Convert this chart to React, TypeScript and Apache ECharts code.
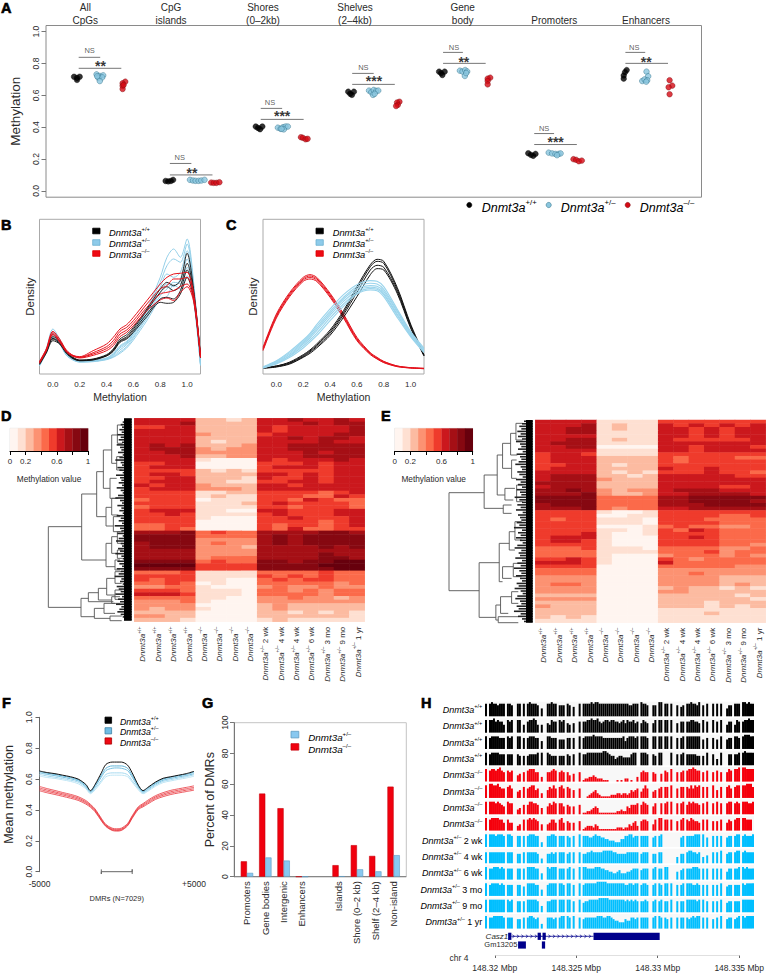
import React, { useEffect, useRef } from "react";
import * as echarts from "echarts";

const FONT = "Liberation Sans";
const TXT = "#2a2a2a";

// ---------- Panel A
const regionTitles: [string, number, number][] = [
  ["All\nCpGs", 85.3, 14],
  ["CpG\nislands", 171, 14],
  ["Shores\n(0–2kb)", 263, 14],
  ["Shelves\n(2–4kb)", 355, 14],
  ["Gene\nbody", 462.7, 14],
  ["Promoters", 554.3, 20],
  ["Enhancers", 646, 20],
];
const wildPoints = [
  [68.3, 0.717], [71.3, 0.697], [74, 0.717], [71.3, 0.71],
  [160.7, 0.062], [163.3, 0.059], [166, 0.062], [168.3, 0.069],
  [251.7, 0.404], [254, 0.395], [256, 0.387], [258.3, 0.404],
  [345, 0.623], [347, 0.61], [348.7, 0.603], [350.7, 0.623],
  [436.7, 0.749], [438.7, 0.74], [440, 0.728], [442.3, 0.749],
  [526.7, 0.236], [529.3, 0.226], [531.7, 0.22], [534, 0.232],
  [626, 0.759], [624.3, 0.745], [623, 0.725], [623, 0.705],
];
const hetPoints = [
  [91, 0.732], [94.3, 0.722], [97.7, 0.726], [92.7, 0.711], [96.7, 0.713], [94.3, 0.69], [91.7, 0.72],
  [185.3, 0.069], [188.3, 0.065], [191, 0.063], [194, 0.063], [196.7, 0.065], [200, 0.069],
  [274, 0.397], [276.7, 0.39], [279.3, 0.4], [281.7, 0.404], [284, 0.404], [280, 0.386], [277.7, 0.39],
  [366, 0.63], [368.3, 0.62], [370.7, 0.634], [373.3, 0.628], [375.3, 0.63], [370, 0.603], [371.7, 0.61],
  [457.7, 0.755], [460.3, 0.75], [463, 0.759], [465, 0.75], [462.7, 0.722], [464, 0.74],
  [547.3, 0.24], [550.7, 0.235], [554, 0.232], [557.3, 0.232], [559.3, 0.235], [555.7, 0.224],
  [646, 0.749], [647.7, 0.72], [641.7, 0.69], [644, 0.7], [646.7, 0.695], [645.7, 0.686],
];
const koPoints = [
  [120, 0.686], [117.3, 0.676], [117.3, 0.66], [117.3, 0.64], [118.3, 0.665],
  [206.7, 0.052], [209.3, 0.05], [212, 0.05], [215, 0.054],
  [297.3, 0.337], [299.3, 0.333], [302, 0.324], [304, 0.327],
  [396.7, 0.56], [394.3, 0.555], [395, 0.54], [393.3, 0.533],
  [488.3, 0.711], [485.7, 0.705], [485.7, 0.69], [485.7, 0.669],
  [572.3, 0.199], [575, 0.195], [577.7, 0.186], [580.7, 0.19],
  [669.3, 0.695], [672, 0.661], [668.3, 0.651], [669.3, 0.607],
];
const brackets = [
  [73, 94.7, 0.839], [73, 116, 0.77],
  [165, 186.7, 0.172], [165, 208, 0.1],
  [256.7, 278.3, 0.518], [256.7, 300, 0.449],
  [349, 370.7, 0.738], [349, 392, 0.669],
  [440.7, 460.7, 0.87], [440.7, 483.7, 0.801],
  [532.7, 552.7, 0.36], [532.7, 575.7, 0.291],
  [624.7, 644.7, 0.87], [624.7, 667.7, 0.801],
];
const nsLabels = [
  [84, 0.879, "NS"], [175, 0.21, "NS"], [266, 0.556, "NS"], [360.3, 0.778, "NS"],
  [451.7, 0.901, "NS"], [542.7, 0.393, "NS"], [633.7, 0.901, "NS"],
];
const starLabels = [
  [95, 0.805, "**"], [187.3, 0.132, "**"], [278.3, 0.486, "***"], [371, 0.707, "***"],
  [461.7, 0.826, "**"], [554.3, 0.325, "***"], [645.7, 0.826, "**"],
];

// ---------- Panel B
const bX = [-0.1, -0.05, 0, 0.05, 0.1, 0.15, 0.2, 0.3, 0.4, 0.45, 0.5, 0.55, 0.6, 0.7, 0.8, 0.85, 0.9, 0.95, 1.0, 1.05, 1.1];
const bBlue = [
  [30, 75, 135, 105, 65, 45, 38, 40, 48, 62, 85, 98, 125, 195, 290, 350, 375, 350, 405, 270, 35],
  [28, 72, 128, 100, 62, 44, 38, 40, 48, 60, 82, 95, 122, 190, 275, 325, 345, 335, 390, 258, 32],
  [27, 70, 122, 96, 60, 44, 37, 39, 46, 58, 78, 92, 118, 182, 260, 300, 290, 305, 370, 245, 30],
  [26, 68, 118, 94, 58, 43, 37, 38, 45, 55, 72, 88, 112, 175, 245, 270, 262, 285, 345, 235, 28],
  [25, 66, 115, 92, 58, 42, 36, 38, 44, 52, 66, 82, 108, 168, 235, 255, 275, 272, 320, 225, 27],
  [24, 64, 110, 90, 56, 42, 36, 37, 43, 50, 62, 78, 102, 160, 225, 232, 268, 255, 295, 215, 25],
];
const bBlack = [
  [35, 70, 112, 100, 68, 50, 42, 45, 58, 75, 105, 118, 140, 195, 255, 275, 265, 280, 362, 250, 55],
  [32, 68, 107, 96, 66, 48, 41, 44, 56, 72, 100, 112, 135, 190, 245, 262, 250, 265, 332, 240, 52],
  [30, 65, 105, 92, 64, 47, 40, 43, 55, 70, 98, 108, 130, 180, 225, 230, 225, 250, 312, 230, 50],
  [28, 62, 100, 90, 62, 46, 40, 42, 54, 68, 95, 105, 125, 172, 215, 212, 215, 240, 290, 222, 48],
];
const bRed = [
  [38, 75, 128, 105, 72, 56, 52, 70, 90, 110, 135, 148, 170, 220, 270, 290, 300, 302, 305, 240, 55],
  [36, 72, 124, 100, 70, 55, 50, 64, 82, 100, 128, 140, 160, 210, 255, 265, 285, 285, 290, 230, 52],
  [34, 70, 120, 98, 68, 54, 50, 60, 76, 92, 120, 132, 152, 200, 240, 245, 250, 262, 270, 222, 50],
  [32, 68, 118, 96, 66, 53, 48, 56, 70, 85, 112, 125, 145, 190, 222, 228, 220, 245, 262, 215, 48],
];

// ---------- Panel C
const cX = [-0.1, 0, 0.1, 0.2, 0.25, 0.3, 0.4, 0.5, 0.6, 0.7, 0.75, 0.8, 0.9, 1.0, 1.1];
const cRed = [
  [80, 180, 245, 290, 298, 290, 242, 180, 110, 64, 50, 38, 24, 19, 17],
  [76, 176, 241, 286, 294, 286, 238, 176, 106, 62, 48, 37, 24, 19, 17],
  [73, 172, 237, 282, 290, 282, 234, 172, 103, 60, 46, 35, 23, 18, 16],
  [70, 168, 233, 278, 285, 278, 230, 168, 100, 58, 45, 34, 22, 18, 16],
];
const cBlack = [
  [19, 24, 36, 58, 72, 90, 132, 190, 262, 328, 344, 338, 260, 150, 58],
  [19, 24, 34, 55, 69, 86, 127, 184, 255, 322, 338, 332, 254, 146, 56],
  [18, 22, 32, 52, 66, 82, 122, 178, 245, 312, 326, 320, 248, 142, 55],
  [17, 21, 30, 50, 62, 78, 116, 170, 232, 298, 316, 312, 242, 138, 54],
];
const cBlue = [
  [22, 40, 68, 102, 122, 148, 195, 238, 268, 280, 278, 262, 195, 128, 78],
  [20, 38, 64, 98, 118, 142, 188, 230, 262, 272, 270, 254, 190, 125, 75],
  [20, 36, 60, 94, 113, 136, 182, 225, 256, 265, 263, 248, 186, 122, 72],
  [19, 34, 56, 90, 108, 130, 176, 218, 250, 260, 258, 242, 180, 118, 68],
  [18, 32, 54, 84, 102, 122, 168, 210, 244, 256, 254, 238, 176, 115, 66],
  [18, 30, 50, 78, 96, 115, 160, 203, 240, 252, 250, 232, 170, 112, 64],
];

// ---------- Panels D, E: one digit per cell (methylation bin 0..9)
const reds = ["#FFF5F0", "#FEE0D2", "#FCBBA1", "#FC9272", "#FB6A4A", "#EF3B2C", "#CB181D", "#A50F15", "#860811", "#67000D"];
const columnLabels = ["+/+", "+/+", "+/+", "+/+", "–/–", "–/–", "–/–", "–/–", "+/– 2 wk", "+/– 4 wk", "+/– 4 wk", "+/– 6 wk", "+/– 3 mo", "+/– 9 mo", "+/– 1 yr"];
const heatD = [
  "6666 2212 6676676", "6667 2222 6667677", "5566 2222 6566667", "6666 2222 6566667", "6666 3222 5666677",
  "6666 2222 6676776", "6666 2122 6666766", "6767 2223 6677777", "6777 3233 6677777", "6677 3333 6667677",
  "6667 2233 6667777", "6666 1000 6566676", "5566 0000 5556566", "5666 0000 5666566", "5555 2121 5555566",
  "5665 2222 6656566", "5566 2221 6556566", "5666 2211 5566566", "6566 3222 6656666", "5666 3332 6666666",
  "5555 1122 5555456", "5555 1211 5554465", "4555 0111 5546544", "5555 1112 5655554", "4555 1111 5545554",
  "5666 1100 6655566", "5565 1111 5655566", "5555 1000 5565556", "5555 0000 5555456", "4455 0000 5455456",
  "4454 0000 5464455", "7778 4544 7777887", "8888 4444 7878888", "8888 3333 7878888", "7888 3433 7878888",
  "7888 3332 7777878", "7777 3333 7777777", "7777 3333 7777877", "7777 3444 7777887", "8888 4544 8878899",
  "9999 5555 8888999", "8888 5555 8888899", "4445 1111 4444544", "5555 1111 5454544", "5455 1100 4545544",
  "4454 0100 4444434", "3344 1000 3433433", "5554 1110 4434344", "6665 1110 4444344", "4444 1100 3343323",
  "3334 1000 3333333", "3333 0000 2322222", "3233 1000 2322222", "2222 0000 2212121", "3322 0000 2222221",
  "2221 0000 1211111",
];
const heatE = [
  "6666 1111 5555555", "6667 1211 6565656", "6677 1211 6656566", "6677 1111 6656566", "6666 1111 6656566",
  "6677 1211 6555556", "6777 1111 6666666", "6677 0000 6656665", "6666 1111 6656666", "5665 1111 5555555",
  "5666 2222 5455544", "5666 2222 5455555", "5566 2122 5555555", "5666 2222 6556555", "6666 2121 5556554",
  "6777 2212 6666655", "6777 3222 6666666", "7777 2222 6666666", "6777 2222 6666556", "7787 3233 6777666",
  "7778 3223 6677776", "8888 4444 7788888", "8888 4444 7788887", "7888 4444 7778888", "7778 4344 6677777",
  "5555 1001 5555555", "5555 0011 5555445", "5455 1110 5554444", "5555 1110 5555444", "5555 0001 4544334",
  "5555 1101 5465444", "5556 1001 5555444", "5666 1000 5565444", "5665 1000 5555444", "5555 1000 5555443",
  "4445 1110 4444334", "4444 1111 4445344", "4444 1000 3444343", "5565 1000 5434444", "6665 1000 6444444",
  "5555 0000 4444433", "4444 0000 3333333", "4444 0000 3343333", "3333 0000 3333222", "3333 0000 3333222",
  "3443 0000 3333232", "3333 0000 2322121", "3333 0000 3322222", "2222 0000 2222212", "3333 0000 2222221",
  "2222 0000 2221222", "3222 0000 2221212", "2222 0000 1111111", "2222 0000 1112111", "2121 0000 1111111",
  "1111 0000 1111111",
];
// merges: [height, topLeaf, bottomLeaf, topChildHeight, bottomChildHeight]
const treeD = [
  [145, 380, 622, 245, 243], [245, 282, 480, 290, 318], [290, 215, 350, 310, 318], [310, 150, 265, 335, 330],
  [335, 105, 190, 352, 350], [330, 235, 295, 350, 348], [352, 75, 130, 368, 368], [350, 170, 210, 368, 365],
  [318, 322, 378, 335, 340], [335, 295, 345, 355, 355], [340, 350, 395, 360, 360], [318, 430, 500, 335, 345],
  [335, 410, 460, 352, 352], [345, 480, 510, 360, 360], [352, 395, 430, 368, 368], [352, 450, 475, 368, 368],
  [243, 595, 650, 265, 283], [265, 578, 605, 295, 340], [295, 565, 600, 320, 335], [320, 535, 585, 345, 345],
  [335, 590, 610, 360, 360], [283, 625, 655, 312, 330], [312, 610, 640, 345, 345], [330, 648, 662, 365, 365],
  [345, 515, 550, 365, 365], [345, 570, 598, 365, 365],
];
const treeE = [
  [208, 278, 572, 313, 298], [313, 225, 325, 352, 370], [352, 165, 285, 368, 375], [368, 130, 205, 392, 395],
  [392, 100, 165, 408, 412], [395, 180, 235, 410, 410], [375, 265, 300, 405, 400], [370, 315, 340, 395, 395],
  [298, 488, 652, 358, 348], [358, 430, 545, 388, 368], [388, 395, 450, 405, 405], [368, 500, 535, 400, 395],
  [348, 615, 660, 362, 355], [362, 590, 640, 395, 385], [355, 650, 668, 415, 415], [405, 365, 420, 425, 425],
  [400, 490, 530, 425, 425], [395, 575, 610, 415, 415], [408, 70, 120, 428, 428], [410, 255, 305, 428, 428],
];
const fringeD = [
  372, 368, 362, 366, 358, 365, 352, 362, 356, 366, 350, 360, 364, 354, 368, 358, 346, 362, 366, 352,
  358, 368, 348, 360, 364, 356, 366, 350, 362, 368, 354, 346, 360, 366, 352, 364, 358, 368, 350, 362,
  356, 366, 344, 360, 364, 352, 368, 356, 348, 362, 366, 354, 360, 346, 364, 368, 352, 358, 366, 350,
  362, 356, 344, 364, 360, 368, 350, 356, 362, 346, 366, 354, 360, 348, 364, 358, 352, 362, 368, 372,
];
const fringeE = [
  432, 426, 418, 424, 412, 422, 414, 426, 408, 420, 424, 414, 428, 410, 420, 424, 416, 406, 422, 426,
  412, 418, 428, 408, 422, 414, 426, 410, 420, 424, 404, 418, 426, 412, 422, 408, 428, 414, 420, 424,
  410, 418, 402, 426, 414, 422, 408, 420, 428, 412, 404, 424, 416, 420, 406, 426, 412, 422, 402, 418,
  424, 408, 420, 426, 410, 416, 404, 422, 428, 412, 406, 420, 424, 410, 416, 402, 422, 414, 426, 432,
];

// ---------- Panel F
const fX = [-5000, -4500, -4000, -3500, -3000, -2500, -2000, -1700, -1400, -1000, -700, -300, 0, 300, 700, 1000, 1400, 1700, 2000, 2500, 3000, 3500, 4000, 4500, 5000];
const fWild = [0.652, 0.642, 0.635, 0.625, 0.615, 0.6, 0.565, 0.525, 0.565, 0.64, 0.695, 0.71, 0.71, 0.71, 0.69, 0.64, 0.56, 0.525, 0.545, 0.58, 0.605, 0.615, 0.625, 0.635, 0.65];
const fHet = [
  [0.648, 0.638, 0.63, 0.62, 0.61, 0.595, 0.56, 0.52, 0.56, 0.625, 0.67, 0.685, 0.685, 0.685, 0.67, 0.625, 0.555, 0.52, 0.54, 0.575, 0.6, 0.612, 0.622, 0.63, 0.645],
  [0.64, 0.63, 0.622, 0.612, 0.602, 0.588, 0.552, 0.515, 0.55, 0.612, 0.655, 0.67, 0.672, 0.67, 0.655, 0.612, 0.548, 0.515, 0.532, 0.568, 0.592, 0.604, 0.614, 0.622, 0.635],
  [0.63, 0.62, 0.612, 0.603, 0.593, 0.58, 0.545, 0.51, 0.54, 0.59, 0.63, 0.64, 0.64, 0.64, 0.628, 0.59, 0.54, 0.508, 0.525, 0.56, 0.585, 0.596, 0.606, 0.615, 0.628],
  [0.62, 0.61, 0.604, 0.595, 0.585, 0.57, 0.537, 0.505, 0.53, 0.58, 0.615, 0.625, 0.625, 0.625, 0.615, 0.58, 0.53, 0.505, 0.52, 0.553, 0.577, 0.588, 0.598, 0.607, 0.618],
];
const fKo = [
  [0.552, 0.538, 0.526, 0.513, 0.501, 0.486, 0.461, 0.436, 0.406, 0.346, 0.306, 0.282, 0.278, 0.282, 0.312, 0.362, 0.421, 0.441, 0.462, 0.492, 0.512, 0.527, 0.537, 0.546, 0.556],
  [0.542, 0.529, 0.517, 0.505, 0.493, 0.478, 0.453, 0.43, 0.4, 0.34, 0.3, 0.276, 0.272, 0.276, 0.306, 0.356, 0.415, 0.434, 0.454, 0.484, 0.503, 0.518, 0.528, 0.537, 0.546],
  [0.533, 0.52, 0.509, 0.497, 0.485, 0.47, 0.446, 0.424, 0.394, 0.335, 0.296, 0.271, 0.267, 0.271, 0.301, 0.351, 0.409, 0.427, 0.446, 0.476, 0.495, 0.509, 0.519, 0.528, 0.537],
  [0.524, 0.511, 0.5, 0.488, 0.476, 0.462, 0.438, 0.417, 0.388, 0.33, 0.292, 0.267, 0.263, 0.267, 0.297, 0.346, 0.403, 0.42, 0.438, 0.468, 0.486, 0.5, 0.51, 0.519, 0.528],
];
const dmrSpan = [-1000, 1000];

// ---------- Panel G
const gCategories = ["Promoters", "Gene bodies", "Intergenic", "Enhancers", "", "Islands", "Shore (0–2 kb)", "Shelf (2–4 kb)", "Non-island"];
const gKo = [10, 54, 44.5, 0, null, 7.5, 20.5, 13.5, 58.5];
const gHet = [2.5, 12.5, 10.5, 0, null, 0.3, 4.8, 3.5, 14];

// ---------- Panel H: one digit per 2-px genome bin (height 0..9)
const trackLabels = ["+/+", "+/+", "+/+", "+/+", "–/–", "–/–", "–/–", "–/–", "+/– 2 wk", "+/– 4 wk", "+/– 6 wk", "+/– 3 mo", "+/– 9 mo", "+/– 1 yr"];
const trackColors = ["#000000", "#000000", "#000000", "#000000", "#f5000c", "#f5000c", "#f5000c", "#f5000c", "#00bfff", "#00bfff", "#00bfff", "#00bfff", "#00bfff", "#00bfff"];
const trackProfiles = [
  "8 0 89887888 0 887 00 88 0 8 0 898887 0 5 00 88988 0 777 0 87 0 6 00 8 0 8888 9 89988888888888 88887788 8 0 9887 00 77 0 99 0 88 0 8 00 7 0 67 0 8898879 0 7 0 8 00 8 0 8 0 8 00 577 0 888 0 99898 8",
  "8 0 88978775 0 878 00 88 0 5 0 788985 0 5 00 65877 0 878 0 65 0 6 00 7 0 7788 9 88976788788776 78687786 7 0 6876 00 68 0 88 0 88 0 8 00 6 0 77 0 7788776 0 8 0 7 00 8 0 7 0 8 00 577 0 587 0 78898 8",
  "8 0 78888777 0 878 00 88 0 7 0 788877 0 5 00 88777 0 666 0 77 0 7 00 8 0 7888 8 98888777777777 78578887 8 0 8887 00 88 0 88 0 88 0 8 00 7 0 78 0 8888888 0 6 0 7 00 7 0 6 0 8 00 677 0 887 0 89998 8",
  "8 0 78888777 0 777 00 76 0 6 0 677778 0 8 00 87666 0 666 0 76 0 7 00 8 0 7788 8 88888998766456 65555788 0 0 8887 00 76 0 88 0 00 0 8 00 7 0 78 0 7777766 0 6 0 8 00 7 0 4 0 8 00 077 0 778 0 89888 8",
  "8 0 78878976 0 767 00 45 0 6 0 788866 0 3 00 66787 0 676 0 64 0 5 00 6 0 1223 3 43222111000010 10220100 3 0 6766 00 65 0 05 0 76 0 8 00 6 0 67 0 7889877 0 6 0 7 00 6 0 7 0 6 00 687 0 889 0 99888 8",
  "8 0 99889766 0 786 00 45 0 7 0 678856 0 3 00 57686 0 786 0 76 0 5 00 6 0 0012 3 45321111122233 23323545 6 0 4686 00 45 0 67 0 77 0 8 00 6 0 77 0 7686878 0 7 0 7 00 8 0 5 0 7 00 786 0 788 0 88999 7",
  "8 0 88878765 0 877 00 34 0 6 0 688776 0 4 00 57687 0 775 0 65 0 5 00 6 0 1122 3 45411111111122 32254666 7 0 6876 00 57 0 07 0 78 0 8 00 7 0 78 0 6878776 0 7 0 8 00 7 0 8 0 7 00 788 0 787 0 88877 8",
  "8 0 78888775 0 755 00 34 0 7 0 787876 0 4 00 45775 0 785 0 65 0 5 00 6 0 1233 3 24311111111122 21224356 3 0 6776 00 47 0 88 0 77 0 7 00 6 0 78 0 7687665 0 7 0 7 00 6 0 6 0 7 00 576 0 788 0 88777 0",
  "8 0 88878887 0 887 00 77 0 7 0 788877 0 3 00 77887 0 777 0 76 0 7 00 8 0 7776 6 78776655444333 55778867 7 0 7777 00 67 0 78 0 00 0 0 00 0 0 67 0 7777888 0 8 0 6 00 7 0 7 0 7 00 677 0 788 0 78777 8",
  "7 0 77777777 0 777 00 66 0 7 0 777776 0 3 00 66767 0 777 0 67 0 7 00 7 0 6677 8 77777888887766 66677777 7 0 6777 00 66 0 77 0 00 0 0 00 4 0 66 0 7887767 0 4 0 5 00 7 0 7 0 8 00 677 0 788 0 78777 7",
  "8 0 77888787 0 777 00 77 0 7 0 888877 0 4 00 87888 0 777 0 78 0 7 00 8 0 8877 7 78887766554456 44455677 7 0 6777 00 78 0 77 0 88 0 0 00 5 0 67 0 7778887 0 7 0 7 00 7 0 7 0 7 00 577 0 778 0 87877 7",
  "8 0 78888787 0 777 00 77 0 6 0 888877 0 4 00 78888 0 887 0 88 0 7 00 8 0 7888 8 88999998888888 88778878 8 0 7887 00 78 0 87 0 88 0 8 00 7 0 78 0 8887787 0 7 0 7 00 7 0 7 0 8 00 677 0 777 0 87888 8",
  "8 0 88888888 0 878 00 77 0 7 0 888887 0 4 00 77888 0 888 0 88 0 7 00 8 0 6778 8 88899999888888 88787878 7 0 7787 00 78 0 78 0 77 0 8 00 7 0 77 0 8888878 0 8 0 7 00 7 0 7 0 8 00 677 0 777 0 88888 8",
  "8 0 77888887 0 777 00 66 0 7 0 788767 0 3 00 77767 0 788 0 87 0 8 00 7 0 6777 7 77888778876554 44655776 7 0 7777 00 78 0 87 0 76 0 7 00 7 0 77 0 7678788 0 7 0 7 00 6 0 7 0 8 00 677 0 678 0 87888 8",
];
const geneExons = [
  [148.32082, 148.32102, 6.3], [148.32263, 148.32283, 6.3], [148.32293, 148.32313, 6.3], [148.32606, 148.33012, 6.3],
  [148.32143, 148.32191, 15], [148.32289, 148.32309, 15],
];
const intron = [148.32102, 148.32606, 6.3];
const mbpTicks = [148.32, 148.325, 148.33, 148.335];

// ---------- helpers
function richStyles(size: number, color = TXT) {
  return {
    i: { fontFamily: FONT, fontStyle: "italic", fontWeight: "normal", fontSize: size, color, lineHeight: size * 1.25, verticalAlign: "bottom" },
    s: { fontFamily: FONT, fontWeight: "normal", fontSize: size * 0.62, color, lineHeight: size * 1.25, verticalAlign: "top" },
    n: { fontFamily: FONT, fontWeight: "normal", fontSize: size, color, lineHeight: size * 1.25, verticalAlign: "bottom" },
  };
}
function genoText(label: string) {
  const [sup, ...rest] = label.split(" ");
  const tail = rest.join(" ");
  return `{i|Dnmt3a}{s|${sup}}` + (tail ? `{n| ${tail}}` : "");
}
function genoGraphic(x: number, y: number, label: string, size: number, align = "left") {
  return {
    type: "text", x, y, silent: true,
    style: { text: genoText(label), rich: richStyles(size), align, verticalAlign: "middle", fontFamily: FONT },
  };
}
function plain(x: number, y: number, text: string, size: number, extra: any = {}) {
  return {
    type: "text", x, y, silent: true,
    style: { text, fontFamily: FONT, fontSize: size, fill: TXT, align: "center", verticalAlign: "middle", ...extra },
  };
}
function panelLetter(x: number, y: number, t: string) {
  return {
    type: "text", x, y, silent: true,
    style: { text: t, fontFamily: FONT, fontWeight: "bold", fontSize: 14.5, fill: "#000", stroke: "#000", lineWidth: 0.6, align: "left", verticalAlign: "top" },
  };
}
function swatch(x: number, y: number, w: number, h: number, fill: string, stroke = fill) {
  return { type: "rect", silent: true, shape: { x, y, width: w, height: h }, style: { fill, stroke, lineWidth: 0.8 } };
}

export default function App() {
  const ref = useRef<HTMLDivElement>(null);
  useEffect(() => {
    if (!ref.current) return;
    const chart = echarts.init(ref.current, null, { renderer: "svg" });
    const grids: any[] = [], xAxes: any[] = [], yAxes: any[] = [], series: any[] = [];
    const addGrid = (rect: any, x: any, y: any) => {
      const i = grids.length;
      grids.push({ containLabel: false, ...rect });
      xAxes.push({ gridIndex: i, ...x });
      yAxes.push({ gridIndex: i, ...y });
      return i;
    };
    const line = (gi: number, data: any[], color: string, width: number, extra: any = {}) =>
      series.push({
        type: "line", xAxisIndex: gi, yAxisIndex: gi, data, showSymbol: false, symbol: "none", silent: true,
        lineStyle: { color, width }, itemStyle: { color }, ...extra,
      });
    const hiddenAxis = (min: number, max: number, extra: any = {}) => ({ type: "value", show: false, min, max, ...extra });
    const zip = (xs: number[], ys: number[]) => xs.map((x, i) => [x, ys[i]]);

    // ---- A
    const aTicks = [0, 0.2, 0.4, 0.6, 0.8, 1];
    const gA = addGrid(
      { left: 40, top: 25.5, width: 661.5, height: 171.7, show: true, borderColor: "#8a8a8a", borderWidth: 1 },
      hiddenAxis(40, 701.5),
      {
        type: "value", min: -0.04, max: 1.039,
        name: "Methylation", nameLocation: "middle", nameGap: 24, nameTextStyle: { fontFamily: FONT, fontSize: 13.5, color: TXT },
        axisLine: { show: false, onZero: false }, splitLine: { show: false },
        axisTick: { show: true, length: 4.5, lineStyle: { color: "#777" }, customValues: aTicks },
        axisLabel: { rotate: 90, margin: 6, fontFamily: FONT, fontSize: 8.5, color: TXT, customValues: aTicks, formatter: (v: number) => v.toFixed(1) },
      }
    );
    brackets.forEach(([a, b, v]) => line(gA, [[a, v], [b, v]], "#666", 0.9));
    const scatter = (data: number[][], color: string, border: string) =>
      series.push({
        type: "scatter", xAxisIndex: gA, yAxisIndex: gA, data, symbolSize: 5.6, silent: true,
        itemStyle: { color, borderColor: border, borderWidth: 0.5 },
      });
    scatter(wildPoints, "#000", "#000");
    scatter(hetPoints, "#8ac6de", "#23667f");
    scatter(koPoints, "#d40a14", "#7a0a0f");
    const notes = (data: any[], size: number, weight: string, offsetY: number, color: string) =>
      series.push({
        type: "scatter", xAxisIndex: gA, yAxisIndex: gA, data, symbolSize: 0, silent: true,
        label: { show: true, position: "inside", formatter: (p: any) => p.data[2], fontFamily: FONT, fontSize: size, fontWeight: weight, color, offset: [0, offsetY] },
      });
    notes(nsLabels, 7.5, "normal", 0, "#333");
    notes(starLabels, 14, "bold", 3, "#000");

    // ---- B / C
    const densityGrid = (left: number) => {
      const t = [0, 0.2, 0.4, 0.6, 0.8, 1];
      return addGrid(
        { left, top: 219.3, width: 161, height: 154.7, show: true, borderColor: "#aaa", borderWidth: 1 },
        {
          type: "value", min: -0.1, max: 1.1,
          name: "Methylation", nameLocation: "middle", nameGap: 17, nameTextStyle: { fontFamily: FONT, fontSize: 10.5, color: TXT },
          axisLine: { show: false, onZero: false }, axisTick: { show: false }, splitLine: { show: false },
          axisLabel: { margin: 6, fontFamily: FONT, fontSize: 8, color: TXT, customValues: t, formatter: (v: number) => v.toFixed(1) },
        },
        {
          type: "value", min: 0, max: 464,
          name: "Density", nameLocation: "middle", nameGap: 4, nameTextStyle: { fontFamily: FONT, fontSize: 11.5, color: TXT },
          axisLine: { show: false, onZero: false }, axisTick: { show: false }, axisLabel: { show: false }, splitLine: { show: false },
        }
      );
    };
    const gB = densityGrid(39.5);
    bBlue.forEach((c) => line(gB, zip(bX, c), "#93cfe8", 1, { smooth: 0.3 }));
    bBlack.forEach((c) => line(gB, zip(bX, c), "#111", 0.9, { smooth: 0.3 }));
    bRed.forEach((c) => line(gB, zip(bX, c), "#e5121c", 1, { smooth: 0.3 }));
    const gC = densityGrid(263);
    cRed.forEach((c) => line(gC, zip(cX, c), "#e5121c", 1, { smooth: 0.3 }));
    cBlack.forEach((c) => line(gC, zip(cX, c), "#111", 1, { smooth: 0.3 }));
    cBlue.forEach((c) => line(gC, zip(cX, c), "#9ad4ec", 1.1, { smooth: 0.3 }));

    // ---- D / E
    const parseHeat = (rows: string[]) =>
      rows.flatMap((r, y) => r.replace(/ /g, "").split("").map((d, x) => [x, y, Number(d)]));
    const heatmapGrid = (left: number, top: number, width: number, height: number, rows: string[]) => {
      const gi = addGrid(
        { left, top, width, height },
        {
          type: "category", data: columnLabels, axisLine: { show: false }, axisTick: { show: false }, splitLine: { show: false },
          axisLabel: { rotate: 90, interval: 0, margin: 5, formatter: (v: string) => genoText(v), rich: richStyles(8) },
        },
        { type: "category", inverse: true, show: false, data: rows.map((_, i) => i), splitLine: { show: false } }
      );
      const si = series.length;
      series.push({ type: "heatmap", xAxisIndex: gi, yAxisIndex: gi, data: parseHeat(rows), silent: true, itemStyle: { borderWidth: 0 } });
      return si;
    };
    const hD = heatmapGrid(134.3, 418.3, 230.4, 203.4, heatD);
    const hE = heatmapGrid(535.3, 420, 230.4, 202.7, heatE);

    const colorBar = (left: number) => {
      const gi = addGrid(
        { left, top: 428.3, width: 78, height: 22.7, show: true, borderColor: "#ccc", borderWidth: 0.5 },
        {
          type: "value", min: 0, max: 1, interval: 0.2, position: "bottom",
          name: "Methylation value", nameLocation: "middle", nameGap: 24, nameTextStyle: { fontFamily: FONT, fontSize: 8.3, color: TXT },
          axisLine: { show: true, onZero: false, lineStyle: { color: "#000", width: 1 } },
          axisTick: { show: true, length: 4, lineStyle: { color: "#000" } }, splitLine: { show: false },
          axisLabel: {
            margin: 6.5, fontFamily: FONT, fontSize: 8, color: TXT,
            formatter: (v: number) => (Math.abs(v - 0.4) < 1e-6 || Math.abs(v - 0.8) < 1e-6 ? "" : String(v)),
          },
        },
        hiddenAxis(0, 1)
      );
      series.push({
        type: "custom", xAxisIndex: gi, yAxisIndex: gi, silent: true,
        data: reds.map((_, i) => [i / 10, (i + 1) / 10]),
        renderItem: (p: any, api: any) => {
          const a = api.coord([api.value(0), 1]);
          const b = api.coord([api.value(1), 0]);
          return { type: "rect", shape: { x: a[0], y: a[1], width: b[0] - a[0] + 0.3, height: b[1] - a[1] }, style: { fill: reds[p.dataIndex] } };
        },
      });
    };
    colorBar(10);
    colorBar(394.7);

    const dendro = (left: number, right: number, top: number, bottom: number, x0: number, x1: number, y0: number, y1: number, tree: number[][], fringe: number[], blockStart: number) => {
      const gi = addGrid(
        { left, top, width: right - left, height: bottom - top },
        hiddenAxis(x0, x1),
        hiddenAxis(y0, y1, { inverse: true })
      );
      series.push({
        type: "custom", xAxisIndex: gi, yAxisIndex: gi, silent: true, data: tree,
        renderItem: (_: any, api: any) => {
          const [h, t, b, c1, c2] = [0, 1, 2, 3, 4].map((i) => api.value(i));
          return {
            type: "polyline",
            shape: { points: [api.coord([c1, t]), api.coord([h, t]), api.coord([h, b]), api.coord([c2, b])] },
            style: { stroke: "#555", fill: "none", lineWidth: 0.9 },
          };
        },
      });
      series.push({
        type: "custom", xAxisIndex: gi, yAxisIndex: gi, silent: true,
        data: fringe.map((d, i) => [d, y0 + ((i + 0.5) / fringe.length) * (y1 - y0)]),
        renderItem: (_: any, api: any) => {
          const a = api.coord([api.value(0), api.value(1)]);
          const b = api.coord([x1, api.value(1)]);
          return { type: "line", shape: { x1: a[0], y1: a[1], x2: b[0], y2: b[1] }, style: { stroke: "#222", lineWidth: 1.6 } };
        },
      });
      series.push({
        type: "custom", xAxisIndex: gi, yAxisIndex: gi, silent: true, data: [[blockStart, y0, x1, y1]],
        renderItem: (_: any, api: any) => {
          const a = api.coord([api.value(0), api.value(1)]);
          const b = api.coord([api.value(2), api.value(3)]);
          return { type: "rect", shape: { x: a[0], y: a[1], width: b[0] - a[0], height: b[1] - a[1] }, style: { fill: "#000" } };
        },
      });
    };
    dendro(45, 131.7, 418.3, 620.7, 135, 395, 55, 662, treeD, fringeD, 372);
    dendro(449, 532.7, 420, 622.7, 208, 458, 60, 668, treeE, fringeE, 438);

    // ---- F
    const gF = addGrid(
      { left: 39.5, top: 717.3, width: 154.5, height: 154.4 },
      {
        type: "value", min: -5000, max: 5000, interval: 10000,
        name: "DMRs (N=7029)", nameLocation: "middle", nameGap: 23, nameTextStyle: { fontFamily: FONT, fontSize: 7.5, color: TXT },
        axisLine: { show: false, onZero: false }, axisTick: { show: false }, splitLine: { show: false },
        axisLabel: { margin: 8, fontFamily: FONT, fontSize: 8.5, color: TXT, formatter: (v: number) => (v > 0 ? "+5000" : "-5000") },
      },
      {
        type: "value", min: 0, max: 1, interval: 0.2,
        name: "Mean methylation", nameLocation: "middle", nameGap: 24, nameTextStyle: { fontFamily: FONT, fontSize: 12.5, color: TXT },
        axisLine: { show: true, onZero: false, lineStyle: { color: "#666" } }, axisTick: { show: true, length: 4, lineStyle: { color: "#666" } }, splitLine: { show: false },
        axisLabel: { rotate: 90, margin: 6, fontFamily: FONT, fontSize: 8.5, color: TXT, formatter: (v: number) => v.toFixed(1) },
      }
    );
    fHet.forEach((c, i) => line(gF, zip(fX, c), ["#5fb4d8", "#75c0e0", "#a5d9ef", "#bfe6f5"][i], 1, { smooth: 0.3 }));
    line(gF, zip(fX, fWild), "#111", 1, { smooth: 0.3 });
    fKo.forEach((c) => line(gF, zip(fX, c), "#e9323a", 0.8, { smooth: 0.3 }));
    line(gF, [[dmrSpan[0], 0.015], [dmrSpan[0], -0.015], [dmrSpan[0], 0], [dmrSpan[1], 0], [dmrSpan[1], 0.015], [dmrSpan[1], -0.015]], "#666", 1, { clip: false });

    // ---- G
    const gG = addGrid(
      { left: 237.8, top: 722.7, width: 165, height: 154 },
      {
        type: "category", data: gCategories, axisLine: { show: false }, axisTick: { show: false }, splitLine: { show: false },
        axisLabel: { rotate: 90, interval: 0, margin: 4.5, fontFamily: FONT, fontSize: 9.5, color: TXT },
      },
      {
        type: "value", min: 0, max: 100, interval: 20, offset: 3.8,
        name: "Percent of DMRs", nameLocation: "middle", nameGap: 18, nameTextStyle: { fontFamily: FONT, fontSize: 12.5, color: TXT },
        axisLine: { show: true, lineStyle: { color: "#777" } }, axisTick: { show: true, length: 4, lineStyle: { color: "#777" } }, splitLine: { show: false },
        axisLabel: { rotate: 90, margin: 5, fontFamily: FONT, fontSize: 8.5, color: TXT },
      }
    );
    const gBar = (data: any[], color: string, border: string) =>
      series.push({
        type: "bar", xAxisIndex: gG, yAxisIndex: gG, data, barWidth: 6.2, barGap: "0%", silent: true,
        itemStyle: { color, borderColor: border, borderWidth: 0.6 },
      });
    gBar(gKo, "#f0000e", "#c8000c");
    gBar(gHet, "#88c8f0", "#5f9cc2");

    // ---- H
    trackProfiles.forEach((profile, k) => {
      const base = 716.3 + 16.33 * k;
      const values = profile.replace(/ /g, "").split("").map(Number);
      const gi = addGrid(
        { left: 485, top: base - 14.5, width: 269, height: 14.5, show: true, backgroundColor: "#f8f8f8", borderWidth: 0 },
        { type: "category", show: false, data: values.map((_, i) => i) },
        { type: "value", show: false, min: 0, max: 9.2 }
      );
      series.push({
        type: "bar", xAxisIndex: gi, yAxisIndex: gi, data: values, barCategoryGap: "0%", silent: true,
        itemStyle: { color: trackColors[k] },
      });
    });
    const gGene = addGrid(
      { left: 485, top: 930, width: 269, height: 25.5 },
      {
        type: "value", min: 148.3194, max: 148.33558,
        axisLine: { show: false, onZero: false }, splitLine: { show: false },
        axisTick: { show: true, length: 2.5, lineStyle: { color: "#666" }, customValues: mbpTicks },
        axisLabel: { margin: 8, fontFamily: FONT, fontSize: 8.5, color: TXT, customValues: mbpTicks, formatter: (v: number) => `${Number(v.toFixed(3))} Mbp` },
      },
      hiddenAxis(0, 25.5, { inverse: true })
    );
    line(gGene, [[mbpTicks[0], 25.5], [mbpTicks[3], 25.5]], "#bbb", 0.6);
    series.push({
      type: "custom", xAxisIndex: gGene, yAxisIndex: gGene, silent: true, data: [intron],
      renderItem: (_: any, api: any) => {
        const a = api.coord([api.value(0), api.value(2)]);
        const b = api.coord([api.value(1), api.value(2)]);
        const children: any[] = [{ type: "line", shape: { x1: a[0], y1: a[1], x2: b[0], y2: b[1] }, style: { stroke: "#00008b", lineWidth: 0.8 } }];
        for (let x = a[0] + 2; x < b[0]; x += 4.5) {
          children.push({ type: "polyline", shape: { points: [[x - 1, a[1] - 1.5], [x + 1, a[1]], [x - 1, a[1] + 1.5]] }, style: { stroke: "#00008b", fill: "none", lineWidth: 0.7 } });
        }
        return { type: "group", children };
      },
    });
    series.push({
      type: "custom", xAxisIndex: gGene, yAxisIndex: gGene, silent: true, data: geneExons,
      renderItem: (_: any, api: any) => {
        const a = api.coord([api.value(0), api.value(2)]);
        const b = api.coord([api.value(1), api.value(2)]);
        return { type: "rect", shape: { x: a[0], y: a[1] - 3.6, width: b[0] - a[0], height: 7.2 }, style: { fill: "#00008b" } };
      },
    });

    // ---- Free annotations
    const graphics: any[] = [
      panelLetter(1, 0, "A"), panelLetter(1, 217, "B"), panelLetter(226, 217, "C"),
      panelLetter(1, 408, "D"), panelLetter(381, 408, "E"), panelLetter(2, 695, "F"),
      panelLetter(202, 695, "G"), panelLetter(421, 695, "H"),
    ];
    regionTitles.forEach(([t, x, y]) => {
      graphics.push({
        type: "text", x, y, silent: true,
        style: { text: t, fontFamily: FONT, fontSize: 10, lineHeight: 12.2, fill: TXT, align: "center", verticalAlign: "middle" },
      });
    });
    // A legend
    [[469.3, "#000", "#000", 481.7, "+/+"], [548.7, "#8ac6de", "#23667f", 560.7, "+/–"], [627.7, "#d40a14", "#7a0a0f", 639.7, "–/–"]].forEach(([cx, f, s, tx, lab]: any) => {
      graphics.push({ type: "circle", silent: true, shape: { cx, cy: 205, r: 2.6 }, style: { fill: f, stroke: s, lineWidth: 0.5 } });
      graphics.push(genoGraphic(tx, 206.5, lab, 12.5));
    });
    const legendRows: any = [["+/+", "#000", "#000"], ["+/–", "#8ecbea", "#6cb0d0"], ["–/–", "#ee0a14", "#d00"]];
    const bcYs = [231, 242.5, 253.5];
    legendRows.forEach(([lab, f, s]: any, i: number) => {
      graphics.push(swatch(92.7, bcYs[i] - 2.8, 7.3, 5.6, f, s), genoGraphic(109, bcYs[i] + 0.6, lab, 9.3));
      graphics.push(swatch(316, bcYs[i] - 2.8, 7.3, 5.6, f, s), genoGraphic(332.7, bcYs[i] + 0.6, lab, 9.3));
    });
    const fYs = [720.2, 730.8, 741];
    const fFill = ["#000", "#70bce4", "#ee0a14"];
    const fStroke = ["#000", "#3d83a6", "#a00"];
    legendRows.forEach(([lab]: any, i: number) => {
      graphics.push(swatch(105, fYs[i] - 3.1, 6.6, 6.2, fFill[i], fStroke[i]), genoGraphic(120, fYs[i] + 0.6, lab, 8.8));
    });
    graphics.push({ type: "rect", silent: true, z: -1, shape: { x: 234, y: 722.7, width: 172.3, height: 154 }, style: { fill: "none", stroke: "#c4c4c4", lineWidth: 1 } });
    graphics.push({ type: "line", silent: true, shape: { x1: 234, y1: 876.7, x2: 406.3, y2: 876.7 }, style: { stroke: "#777", lineWidth: 1 } });
    graphics.push(swatch(291, 731.3, 7.8, 6.6, "#88c8f0", "#5f9cc2"), genoGraphic(308.3, 736.8, "+/–", 9.8));
    graphics.push(swatch(291, 743.7, 7.8, 6.4, "#f0000e", "#c8000c"), genoGraphic(308.3, 748.8, "–/–", 9.8));
    trackLabels.forEach((lab, k) => {
      graphics.push(genoGraphic(482.3, 709 + 16.33 * k, lab, 9, "right"));
    });
    graphics.push(plain(508.3, 936, "Casz1", 8, { align: "right", fontStyle: "italic" }));
    graphics.push(plain(517.3, 944.5, "Gm13205", 7.5, { align: "right" }));
    graphics.push(plain(459, 957.7, "chr 4", 8.5));

    chart.setOption({
      animation: false,
      textStyle: { fontFamily: FONT },
      tooltip: { show: false },
      grid: grids,
      xAxis: xAxes,
      yAxis: yAxes,
      visualMap: {
        type: "piecewise", show: false, seriesIndex: [hD, hE], dimension: 2,
        pieces: reds.map((color, value) => ({ value, color })),
      },
      series,
      graphic: { elements: graphics },
    });
    return () => chart.dispose();
  }, []);
  return <div ref={ref} style={{ position: "absolute", left: 0, top: 0, width: 767, height: 978 }} />;
}
